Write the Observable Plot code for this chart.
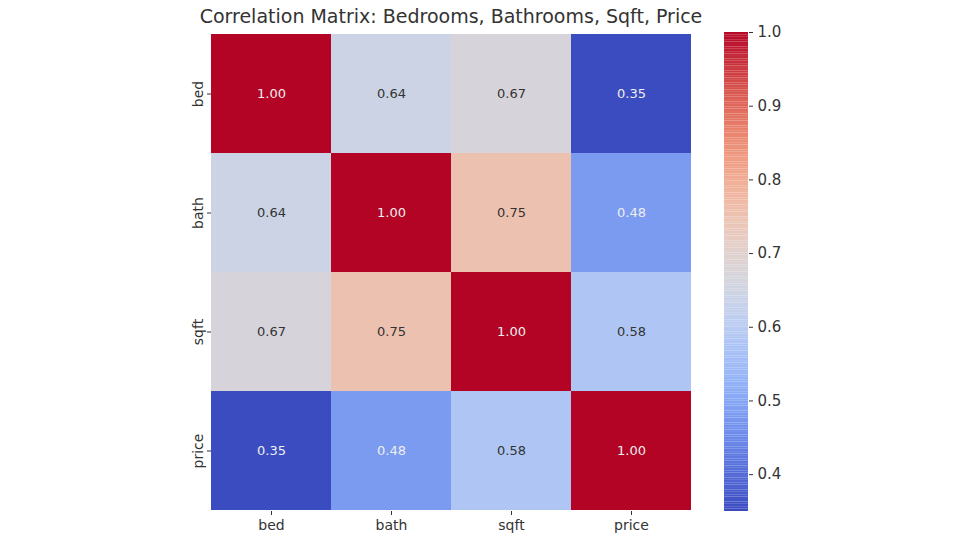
<!DOCTYPE html>
<html><head><meta charset="utf-8">
<script src="https://cdn.jsdelivr.net/npm/d3@7"></script>
<script src="https://cdn.jsdelivr.net/npm/@observablehq/plot@0.6"></script>
<style>body{margin:0;background:#fff;font-family:"DejaVu Sans",sans-serif}
#c{position:relative;width:960px;height:540px}
#t{position:absolute;top:5px;left:0;width:902px;text-align:center;font-size:19px;color:#333}
#h,#b{position:absolute}
</style></head><body><div id="c"><div id="t">Correlation Matrix: Bedrooms, Bathrooms, Sqft, Price</div><div id="h"></div><div id="b" style="left:700px;top:0"></div></div>
<script>
const vars = ["bed","bath","sqft","price"];
const matrix = [
 [1.00,0.64,0.67,0.35],
 [0.64,1.00,0.75,0.48],
 [0.67,0.75,1.00,0.58],
 [0.35,0.48,0.58,1.00]];
const cbTicks = [0.4,0.5,0.6,0.7,0.8,0.9,1.0];
const cells = [];
matrix.forEach((row,i)=>row.forEach((v,j)=>cells.push({x:vars[j],y:vars[i],v})));
const cw = d3.interpolateRgbBasis(["#3b4cc0","#6f92f3","#aac7fd","#dddddd","#f7b89c","#e7745b","#b40426"]);
const color = {type:"linear",domain:[0.35,1],interpolate:cw};
const font = "DejaVu Sans, sans-serif";
document.getElementById("h").appendChild(Plot.plot({
 width:960,height:540,marginLeft:211,marginRight:269,marginTop:32,marginBottom:29,
 style:{fontSize:"14px",fontFamily:font,color:"#333"},
 x:{domain:vars,padding:0,label:null,tickSize:4},
 y:{domain:vars,padding:0,label:null,tickRotate:-90,tickSize:4},
 color,
 marks:[
  Plot.cell(cells,{x:"x",y:"y",fill:"v"}),
  Plot.text(cells,{x:"x",y:"y",text:d=>d.v.toFixed(2),fontSize:13,
    fill:d=>(d.v>0.9||d.v<0.5)?"#eee":"#333"})
 ]}));
const steps = d3.range(0,200).map(i=>({a:0.35+i*0.65/200,b:0.35+(i+1)*0.65/200}));
document.getElementById("b").appendChild(Plot.plot({
 width:100,height:540,marginLeft:24,marginRight:52,marginTop:32,marginBottom:29,
 style:{fontSize:"15px",fontFamily:font,color:"#333"},
 x:{axis:null,domain:[0,1]},
 y:{domain:[0.35,1],axis:"right",ticks:cbTicks,tickFormat:".1f",label:null,tickSize:4},
 marks:[Plot.rect(steps,{x1:0,x2:1,y1:"a",y2:"b",fill:d=>cw((d.a-0.35)/0.65)})]
}));
</script></body></html>
